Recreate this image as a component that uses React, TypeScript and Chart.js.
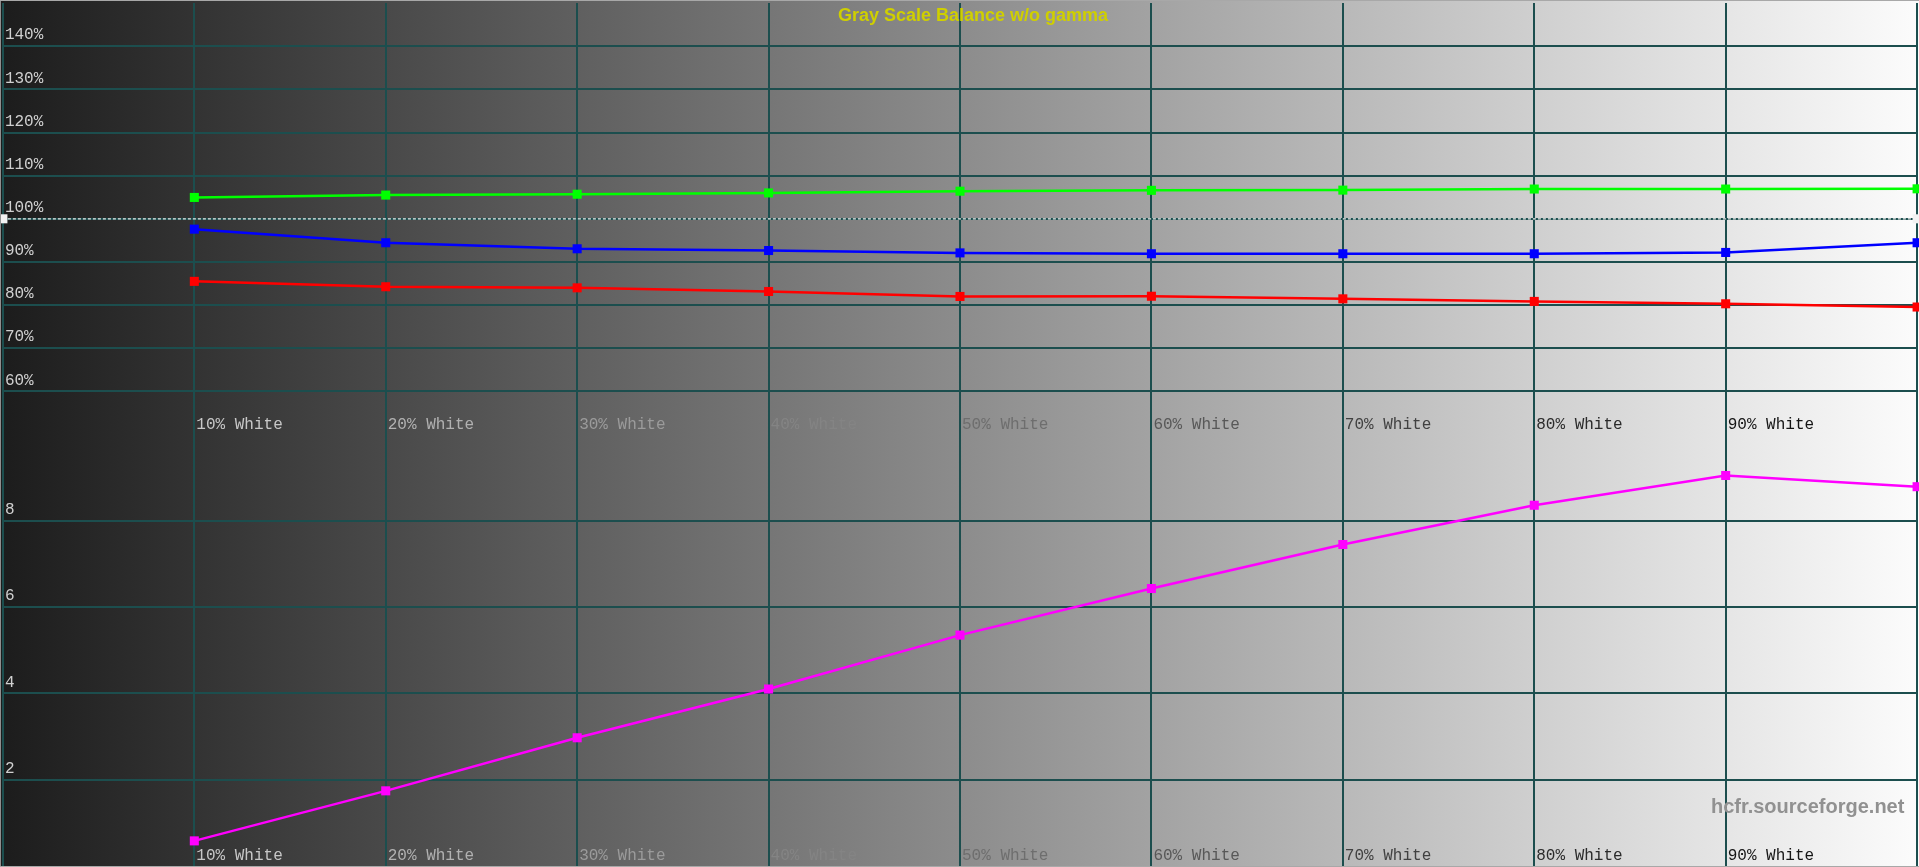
import React, { useEffect, useRef } from 'react';
import { Chart, registerables } from 'chart.js';

Chart.register(...registerables);

// ---- data ----
const levels = [10, 20, 30, 40, 50, 60, 70, 80, 90, 100];
const levelLabels = ['10% White', '20% White', '30% White', '40% White', '50% White', '60% White', '70% White', '80% White', '90% White'];
const redBalance = [85.5, 84.25, 84.0, 83.15, 82.0, 82.05, 81.45, 80.85, 80.3, 79.55];
const greenBalance = [104.95, 105.5, 105.7, 106.0, 106.4, 106.6, 106.65, 106.9, 106.9, 106.95];
const blueBalance = [97.6, 94.45, 93.05, 92.65, 92.1, 91.9, 91.9, 91.9, 92.2, 94.45];
const deltaE = [0.58, 1.74, 2.97, 4.1, 5.35, 6.43, 7.45, 8.36, 9.05, 8.79];
const referenceX = [0, 100];
const referenceValue = [100, 100];
const balanceTicks = [60, 70, 80, 90, 100, 110, 120, 130, 140];
const deltaETicks = [2, 4, 6, 8];
const titleText = 'Gray Scale Balance w/o gamma';
const watermarkText = 'hcfr.sourceforge.net';

const W = 1919;
const H = 867;
const GRAD_L = 28;
const GRAD_R = 252;
const GRID = 'rgb(28,78,78)';

const bgGray = (x: number) => GRAD_L + (GRAD_R - GRAD_L) * Math.min(1, Math.max(0, x / W));

const pts = (xs: number[], ys: number[]) => xs.map((x, i) => ({ x, y: ys[i] }));

export default function App() {
  const ref = useRef<HTMLCanvasElement>(null);

  useEffect(() => {
    document.body.style.margin = '0';
    document.body.style.overflow = 'hidden';
    const canvas = ref.current;
    if (!canvas) return;

    const bgPlugin = {
      id: 'bgGradient',
      beforeDraw(chart: any) {
        const ctx = chart.ctx;
        const g = ctx.createLinearGradient(0, 0, W, 0);
        g.addColorStop(0, `rgb(${GRAD_L},${GRAD_L},${GRAD_L})`);
        g.addColorStop(1, `rgb(${GRAD_R},${GRAD_R},${GRAD_R})`);
        ctx.save();
        ctx.fillStyle = g;
        ctx.fillRect(0, 0, W, H);
        ctx.restore();
      },
    };

    const overlayPlugin = {
      id: 'overlay',
      afterDraw(chart: any) {
        const ctx = chart.ctx;
        const xs = chart.scales.x;
        ctx.save();
        // category labels inside each panel, inverted against the background
        ctx.font = '16px "Liberation Mono", "Courier New", monospace';
        ctx.textAlign = 'left';
        ctx.textBaseline = 'alphabetic';
        for (const id of ['yTop', 'yBottom']) {
          const panel = chart.scales[id];
          levelLabels.forEach((lab, i) => {
            const x = xs.getPixelForValue(levels[i]) + 2;
            const g = Math.round(255 - bgGray(x + 40));
            ctx.fillStyle = `rgb(${g},${g},${g})`;
            ctx.fillText(lab, x, panel.bottom - 6);
          });
        }
        // title
        ctx.font = 'bold 18px "Liberation Sans", Arial, sans-serif';
        ctx.fillStyle = '#cfcf00';
        ctx.textAlign = 'center';
        ctx.fillText(titleText, 973, 21);
        // watermark
        ctx.font = 'bold 20px "Liberation Sans", Arial, sans-serif';
        ctx.fillStyle = '#919191';
        ctx.textAlign = 'left';
        ctx.fillText(watermarkText, 1711, 813);
        // frame
        ctx.fillStyle = '#8f8f8f';
        ctx.fillRect(0, 0, 1, H);
        ctx.fillStyle = '#a8a8a8';
        ctx.fillRect(0, 0, W, 1);
        ctx.fillRect(0, H - 1, W, 1);
        ctx.restore();
      },
    };

    const lineDs = (label: string, data: any[], color: string, axis: string) => ({
      label,
      data,
      yAxisID: axis,
      borderColor: color,
      backgroundColor: color,
      borderWidth: 2.5,
      pointStyle: 'rect' as const,
      pointRadius: 6.4,
      pointBorderWidth: 0,
      pointBackgroundColor: color,
      tension: 0,
      clip: false as any,
    });

    const fitVertical = (s: any) => {
      s.width = 0;
      s.paddingTop = 0;
      s.paddingBottom = 0;
    };

    const chart = new Chart(canvas, {
      type: 'line',
      data: {
        datasets: [
          {
            label: 'Reference',
            data: pts(referenceX, referenceValue),
            yAxisID: 'yTop',
            borderColor: '#ececec',
            borderWidth: 1.2,
            borderDash: [3, 2],
            pointStyle: 'rect',
            pointRadius: 6.4,
            pointBorderWidth: 0,
            pointBackgroundColor: '#f2f2f2',
            clip: false as any,
          },
          lineDs('Green', pts(levels, greenBalance), '#00ff00', 'yTop'),
          lineDs('Blue', pts(levels, blueBalance), '#0000ff', 'yTop'),
          lineDs('Red', pts(levels, redBalance), '#ff0000', 'yTop'),
          lineDs('Delta E', pts(levels, deltaE), '#ff00ff', 'yBottom'),
        ],
      },
      options: {
        responsive: false,
        animation: false,
        devicePixelRatio: 1,
        layout: { autoPadding: false, padding: { left: 2.9, right: 1.9, top: 3.1, bottom: 1.1 } },
        plugins: { legend: { display: false }, tooltip: { enabled: false }, title: { display: false } },
        scales: {
          x: {
            type: 'linear',
            position: 'bottom',
            min: 0,
            max: 100,
            ticks: { display: false, stepSize: 10 },
            grid: { color: GRID, lineWidth: 2, drawTicks: false },
            border: { display: false },
            afterFit(s: any) { s.height = 0; s.paddingLeft = 0; s.paddingRight = 0; },
          },
          yTop: {
            type: 'linear',
            position: 'left',
            stack: 'panels',
            stackWeight: 1,
            weight: 1,
            min: 50,
            max: 150,
            afterBuildTicks(s: any) { s.ticks = balanceTicks.map((v) => ({ value: v })); },
            ticks: {
              mirror: true,
              padding: 2,
              labelOffset: -11,
              autoSkip: false,
              color: '#d0d0d0',
              font: { family: '"Liberation Mono", "Courier New", monospace', size: 16 },
              callback: (v: any) => `${v}%`,
            },
            grid: { color: GRID, lineWidth: 2, drawTicks: false },
            border: { display: false },
            afterFit: fitVertical,
          },
          yBottom: {
            type: 'linear',
            position: 'left',
            stack: 'panels',
            stackWeight: 1,
            weight: 0,
            min: 0,
            max: 10,
            afterBuildTicks(s: any) { s.ticks = deltaETicks.map((v) => ({ value: v })); },
            ticks: {
              mirror: true,
              padding: 2,
              labelOffset: -11,
              autoSkip: false,
              color: '#d0d0d0',
              font: { family: '"Liberation Mono", "Courier New", monospace', size: 16 },
              callback: (v: any) => `${v}`,
            },
            grid: { color: GRID, lineWidth: 2, drawTicks: false },
            border: { display: false },
            afterFit: fitVertical,
          },
        },
      } as any,
      plugins: [bgPlugin, overlayPlugin],
    });

    return () => chart.destroy();
  }, []);

  return (
    <div style={{ width: W, height: H }}>
      <canvas ref={ref} width={W} height={H} style={{ display: 'block' }} />
    </div>
  );
}
